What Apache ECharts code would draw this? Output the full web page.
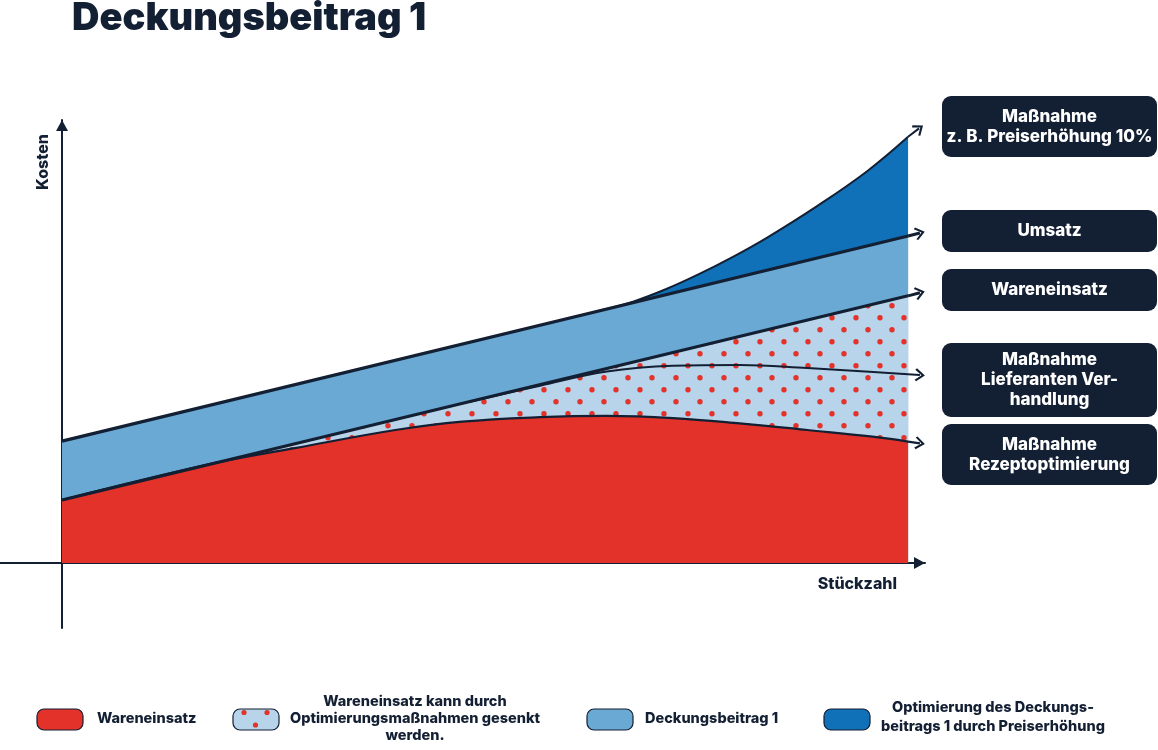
<!DOCTYPE html>
<html>
<head>
<meta charset="utf-8">
<script src="https://cdn.jsdelivr.net/npm/echarts@6/dist/echarts.min.js"></script>
<style>
  html, body { margin: 0; padding: 0; background: #fff; }
  #main { width: 1158px; height: 750px; }
</style>
</head>
<body>
<div id="main"></div>
<script>
// Werte: x = Stückzahl (0..100), y = Kosten (0..100)
const umsatz = [[0, 27.5], [100, 73.8]];
const wareneinsatz = [[0, 14.2], [100, 60.3]];
const preiserhoehung = [[63.6, 57.0], [67.5, 59.0], [71.5, 61.9], [75.4, 65.3], [79.3, 69.1], [83.3, 73.4], [89.2, 80.5], [95.2, 88.5], [100, 96.2]];
const rezeptoptimierung = [[0, 14.2], [17.7, 22.4], [27.5, 25.9], [39.4, 30.0], [47.3, 31.9], [56.5, 32.9], [64.4, 33.2], [72.2, 32.7], [80.1, 31.5], [88.1, 30.0], [95.8, 28.5], [100, 27.4]];
const lieferanten = [[48.2, 36.4], [56.5, 40.0], [64.4, 43.2], [72.2, 44.5], [80.1, 44.7], [88.1, 44.0], [95.9, 43.1], [100, 42.6]];

// Endpunkte der Pfeile rechts neben der Fläche
const pfeilUmsatz = [101.4, 74.5];
const pfeilWareneinsatz = [101.4, 61.0];
const pfeilPreis = [101.3, 98.1];
const pfeilRezept = [101.4, 27.0];
const pfeilLieferanten = [101.4, 42.4];

// Texte
const massnahmen = ['Maßnahme\nz. B. Preiserhöhung 10%', 'Umsatz', 'Wareneinsatz', 'Maßnahme\nLieferanten Ver-\nhandlung', 'Maßnahme\nRezeptoptimierung'];
const legendeTexte = ['Wareneinsatz', 'Wareneinsatz kann durch\nOptimierungsmaßnahmen gesenkt\nwerden.', 'Deckungsbeitrag 1', 'Optimierung des Deckungs-\nbeitrags 1 durch Preiserhöhung'];

const NAVY = '#131f33';
const ROT = '#e3322a';
const HELLBLAU = '#6ba9d5';
const DUNKELBLAU = '#1071b9';
const PUNKTGRUND = '#b7d4ea';
const FONT = 'Inter, "Open Sans", sans-serif';
const PFEIL = 'path://M7,0 L14,8.4 L12.5,10 L7,3.4 L1.5,10 L0,8.4 Z';

// Punktmuster für den senkbaren Wareneinsatz
const muster = document.createElement('canvas');
muster.width = 24;
muster.height = 24;
const ctx = muster.getContext('2d');
ctx.fillStyle = PUNKTGRUND;
ctx.fillRect(0, 0, 24, 24);
ctx.fillStyle = ROT;
[[16, 5.7], [4, 17.7]].forEach(p => {
  ctx.beginPath();
  ctx.arc(p[0], p[1], 2.7, 0, Math.PI * 2);
  ctx.fill();
});

function flaeche(data, color, z) {
  return {
    type: 'line', data: data, smooth: 0.4, symbol: 'none', silent: true, z: z,
    lineStyle: { width: 0 },
    areaStyle: { color: color, opacity: 1 }
  };
}

function linie(data, ende, breite) {
  return {
    type: 'line', data: data, smooth: 0.4, symbol: 'none', silent: true, z: 10,
    lineStyle: { color: NAVY, width: breite },
    markLine: {
      silent: true,
      symbol: ['none', PFEIL],
      symbolSize: [13, 10],
      label: { show: false },
      lineStyle: { color: NAVY, width: breite, type: 'solid' },
      data: [[{ coord: data[data.length - 1] }, { coord: ende }]]
    }
  };
}

// Kästen rechts
const kaesten = [
  { y: 96, h: 61 },
  { y: 210, h: 42 },
  { y: 269, h: 42 },
  { y: 343, h: 74 },
  { y: 424, h: 61 }
];
let grafik = [];
kaesten.forEach((k, i) => {
  grafik.push({ type: 'rect', shape: { x: 942, y: k.y, width: 215, height: k.h, r: 9 }, style: { fill: NAVY } });
  grafik.push({
    type: 'text', x: 1049.5, y: k.y + k.h / 2,
    style: { text: massnahmen[i], fill: '#fff', font: '800 17px ' + FONT, align: 'center', verticalAlign: 'middle', lineHeight: 20 }
  });
});

// Legende unten
const legendeFarben = [ROT, PUNKTGRUND, HELLBLAU, DUNKELBLAU];
const legendeX = [37, 233, 587, 824];
legendeX.forEach((x, i) => {
  grafik.push({ type: 'rect', shape: { x: x, y: 709, width: 46, height: 21, r: 7 }, style: { fill: legendeFarben[i], stroke: NAVY, lineWidth: 1.2 } });
});
[[11, 3.5], [34, 3.5], [22.5, 16]].forEach(p => {
  grafik.push({ type: 'circle', shape: { cx: 233 + p[0], cy: 709 + p[1], r: 2.6 }, style: { fill: ROT } });
});
const legendeFont = '800 14.5px ' + FONT;
grafik.push({ type: 'text', x: 97, y: 719, style: { text: legendeTexte[0], fill: NAVY, font: legendeFont, align: 'left', verticalAlign: 'middle' } });
grafik.push({ type: 'text', x: 415, y: 719, style: { text: legendeTexte[1], fill: NAVY, font: legendeFont, align: 'center', verticalAlign: 'middle', lineHeight: 17 } });
grafik.push({ type: 'text', x: 645, y: 719, style: { text: legendeTexte[2], fill: NAVY, font: legendeFont, align: 'left', verticalAlign: 'middle' } });
grafik.push({ type: 'text', x: 993, y: 717, style: { text: legendeTexte[3], fill: NAVY, font: legendeFont, align: 'center', verticalAlign: 'middle', lineHeight: 19 } });

const chart = echarts.init(document.getElementById('main'));
const option = {
  animation: false,
  backgroundColor: '#fff',
  title: {
    text: 'Deckungsbeitrag 1',
    left: 72, top: 0, padding: 0,
    textStyle: { color: NAVY, fontSize: 38, fontWeight: 900, fontFamily: FONT }
  },
  grid: { left: 0, right: 233, top: 120, bottom: 122, containLabel: false, outerBoundsMode: 'none' },
  xAxis: {
    type: 'value', min: -7.33, max: 102,
    axisLine: { onZero: true, lineStyle: { color: NAVY, width: 2 }, symbol: ['none', 'triangle'], symbolSize: [12, 11], symbolOffset: [0, -5.5] },
    axisTick: { show: false }, axisLabel: { show: false }, splitLine: { show: false },
    name: 'Stückzahl', nameLocation: 'end', nameGap: -28,
    nameTextStyle: { color: NAVY, fontSize: 16, fontWeight: 800, fontFamily: FONT, align: 'right', verticalAlign: 'top', padding: [13, 0, 0, 0] }
  },
  yAxis: {
    type: 'value', min: -14.7, max: 100,
    axisLine: { onZero: true, lineStyle: { color: NAVY, width: 2 }, symbol: ['none', 'triangle'], symbolSize: [12, 11], symbolOffset: [0, -5.5] },
    axisTick: { show: false }, axisLabel: { show: false }, splitLine: { show: false },
    name: 'Kosten', nameLocation: 'end', nameGap: -42, nameRotate: 90,
    nameTextStyle: { color: NAVY, fontSize: 16, fontWeight: 800, fontFamily: FONT, align: 'center', verticalAlign: 'bottom', padding: [0, 0, 11, 0] }
  },
  graphic: grafik,
  series: [
    flaeche(preiserhoehung, DUNKELBLAU, 1),
    flaeche(umsatz, HELLBLAU, 2),
    flaeche(wareneinsatz, { image: muster, repeat: 'repeat' }, 3),
    flaeche(rezeptoptimierung, ROT, 4),
    linie(preiserhoehung, pfeilPreis, 2),
    linie(umsatz, pfeilUmsatz, 3.2),
    linie(wareneinsatz, pfeilWareneinsatz, 3),
    linie(lieferanten, pfeilLieferanten, 2),
    linie(rezeptoptimierung, pfeilRezept, 2.2)
  ]
};
chart.setOption(option);
</script>
</body>
</html>
